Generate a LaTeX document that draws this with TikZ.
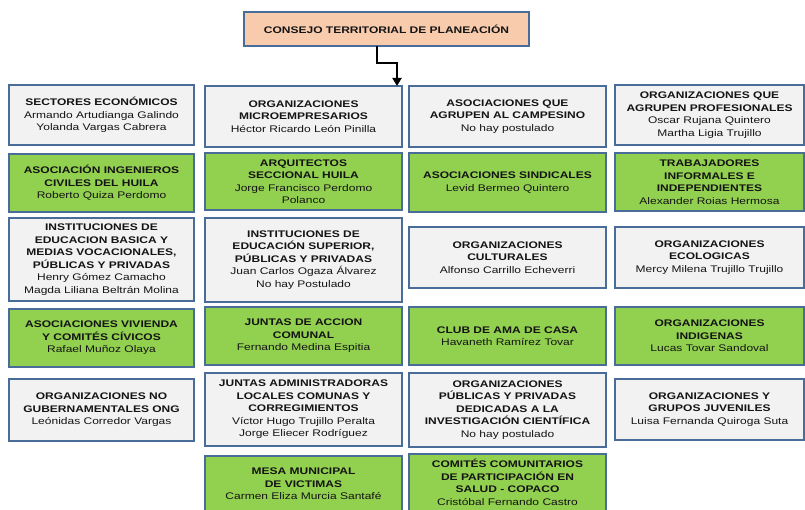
\documentclass[tikz,border=0pt]{standalone}
\usepackage{fontspec}
\setmainfont{Liberation Sans}[FakeStretch=1.25]
\usetikzlibrary{arrows.meta}
\definecolor{bord}{HTML}{4A6C98}
\definecolor{grayfill}{HTML}{F2F2F2}
\definecolor{greenfill}{HTML}{92D050}
\definecolor{peach}{HTML}{F8CBAD}
\definecolor{ink}{HTML}{141414}
\newcommand\tb[1]{\textbf{#1}}
\newcommand\orgbox[7]{\node[#6, minimum width={#4pt-#2pt}, minimum height={#5pt-#3pt}] (#1) at ({(#2+#4)/2},{(#3+#5)/2}) {#7};}
\tikzset{
  orgbase/.style={draw=bord, line width=1.1pt, inner sep=0pt, outer sep=0pt, align=center, text=ink, font=\fontsize{9.6}{12.5}\selectfont},
  graybox/.style={orgbase, fill=grayfill},
  greenbox/.style={orgbase, fill=greenfill},
  topbox/.style={orgbase, fill=peach},
  plaintext/.style={orgbase, draw=none, fill=none},
  conn/.style={line width=2pt, -{Triangle[length=8pt,width=9pt]}},
}
\begin{document}
\begin{tikzpicture}[x=1pt,y=-1pt]
\useasboundingbox (0,0) rectangle (805,510);
\fill[white] (0,0) rectangle (805,510);
\clip (0,0) rectangle (805,510);
% top
\orgbox{top}{244}{12}{529}{46}{topbox}{\tb{CONSEJO TERRITORIAL DE PLANEACIÓN}}
% column 1
\orgbox{a1}{9}{85}{194}{145}{graybox}{\tb{SECTORES ECONÓMICOS}\\Armando Artudianga Galindo\\Yolanda Vargas Cabrera}
\orgbox{a2}{9}{154}{194}{212}{greenbox}{\tb{ASOCIACIÓN INGENIEROS}\\\tb{CIVILES DEL HUILA}\\Roberto Quiza Perdomo}
\orgbox{a3}{9}{218}{194}{301}{graybox}{\tb{INSTITUCIONES DE}\\\tb{EDUCACION BASICA Y}\\\tb{MEDIAS VOCACIONALES,}\\\tb{PÚBLICAS Y PRIVADAS}\\Henry Gómez Camacho\\Magda Liliana Beltrán Molina}
\orgbox{a4}{9}{309}{194}{367}{greenbox}{\tb{ASOCIACIONES VIVIENDA}\\\tb{Y COMITÉS CÍVICOS}\\Rafael Muñoz Olaya}
\orgbox{a5}{9}{379}{194}{441}{graybox}{\tb{ORGANIZACIONES NO}\\\tb{GUBERNAMENTALES ONG}\\Leónidas Corredor Vargas}
% column 2
\orgbox{b1}{205}{86}{402}{147}{graybox}{\tb{ORGANIZACIONES}\\\tb{MICROEMPRESARIOS}\\Héctor Ricardo León Pinilla}
\orgbox{b2}{205}{153}{402}{210}{greenbox}{}
\begin{scope}
\clip (205,153) rectangle (402,202.5);
\node[plaintext] (b2t) at (b2.center) {\tb{ARQUITECTOS}\\\tb{SECCIONAL HUILA}\\Jorge Francisco Perdomo\\Polanco};
\end{scope}
\orgbox{b3}{205}{218}{402}{302}{graybox}{\tb{INSTITUCIONES DE}\\\tb{EDUCACIÓN SUPERIOR,}\\\tb{PÚBLICAS Y PRIVADAS}\\Juan Carlos Ogaza Álvarez\\No hay Postulado}
\orgbox{b4}{205}{307}{402}{365}{greenbox}{\tb{JUNTAS DE ACCION}\\\tb{COMUNAL}\\Fernando Medina Espitia}
\orgbox{b5}{205}{373}{402}{446}{graybox}{\tb{JUNTAS ADMINISTRADORAS}\\\tb{LOCALES COMUNAS Y}\\\tb{CORREGIMIENTOS}\\Víctor Hugo Trujillo Peralta\\Jorge Eliecer Rodríguez}
\orgbox{b6}{205}{456}{402}{512}{greenbox}{\tb{MESA MUNICIPAL}\\\tb{DE VICTIMAS}\\Carmen Eliza Murcia Santafé}
% column 3
\orgbox{c1}{409}{86}{606}{147}{graybox}{\tb{ASOCIACIONES QUE}\\\tb{AGRUPEN AL CAMPESINO}\\No hay postulado}
\orgbox{c2}{409}{153}{606}{212}{greenbox}{\tb{ASOCIACIONES SINDICALES}\\Levid Bermeo Quintero}
\orgbox{c3}{409}{227}{606}{288}{graybox}{\tb{ORGANIZACIONES}\\\tb{CULTURALES}\\Alfonso Carrillo Echeverri}
\orgbox{c4}{409}{307}{606}{365}{greenbox}{\tb{CLUB DE AMA DE CASA}\\Havaneth Ramírez Tovar}
\orgbox{c5}{409}{373}{606}{447}{graybox}{\tb{ORGANIZACIONES}\\\tb{PÚBLICAS Y PRIVADAS}\\\tb{DEDICADAS A LA}\\\tb{INVESTIGACIÓN CIENTÍFICA}\\No hay postulado}
\orgbox{c6}{409}{454}{606}{511}{greenbox}{\tb{COMITÉS COMUNITARIOS}\\\tb{DE PARTICIPACIÓN EN}\\\tb{SALUD - COPACO}\\Cristóbal Fernando Castro}
% column 4
\orgbox{d1}{615}{85}{804}{145}{graybox}{\tb{ORGANIZACIONES QUE}\\\tb{AGRUPEN PROFESIONALES}\\Oscar Rujana Quintero\\Martha Ligia Trujillo}
\orgbox{d2}{615}{153}{804}{211}{greenbox}{\tb{TRABAJADORES}\\\tb{INFORMALES E}\\\tb{INDEPENDIENTES}\\Alexander Roias Hermosa}
\orgbox{d3}{615}{227}{804}{288}{graybox}{\tb{ORGANIZACIONES}\\\tb{ECOLOGICAS}\\Mercy Milena Trujillo Trujillo}
\orgbox{d4}{615}{307}{804}{365}{greenbox}{\tb{ORGANIZACIONES}\\\tb{INDIGENAS}\\Lucas Tovar Sandoval}
\orgbox{d5}{615}{379}{804}{440}{graybox}{\tb{ORGANIZACIONES Y}\\\tb{GRUPOS JUVENILES}\\Luisa Fernanda Quiroga Suta}
% connector
\draw[conn] ([xshift=-9.5pt]top.south) |- ([xshift=-5pt,yshift=23pt]b1.north east) -- ([xshift=-5pt]b1.north east);
\end{tikzpicture}
\end{document}
